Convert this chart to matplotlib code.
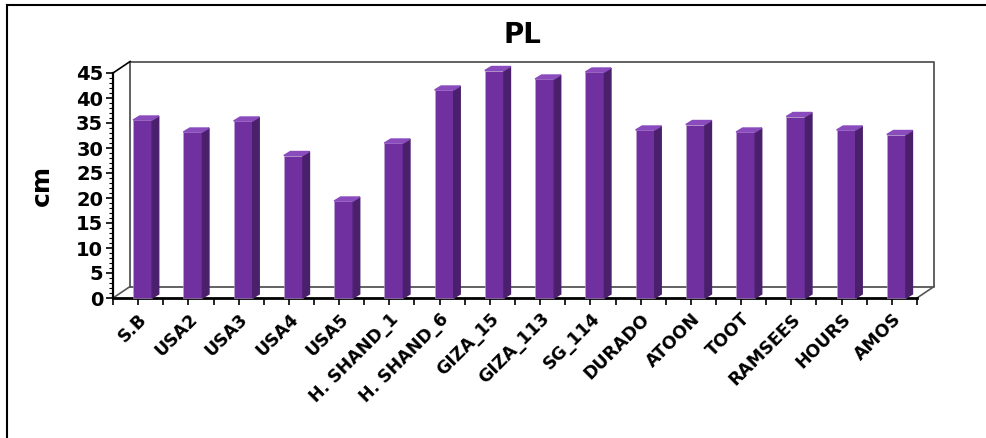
import matplotlib.pyplot as plt
from matplotlib.lines import Line2D
from matplotlib.ticker import MultipleLocator

varieties = ['S.B', 'USA2', 'USA3', 'USA4', 'USA5', 'H. SHAND_1', 'H. SHAND_6',
             'GIZA_15', 'GIZA_113', 'SG_114', 'DURADO', 'ATOON', 'TOOT',
             'RAMSEES', 'HOURS', 'AMOS']
pl_cm = [35.6, 33.2, 35.4, 28.5, 19.4, 31.0, 41.6, 45.5, 43.8, 45.2,
         33.6, 34.7, 33.2, 36.3, 33.6, 32.7]

front = '#7030A0'
side = '#4A1F6C'
top = '#8A4CBC'

fig = plt.figure(figsize=(9.87, 4.38), dpi=100)
ax = fig.add_axes([113/987, 140/438, 804/987, 225/438])
n = len(varieties)
ax.set_xlim(0, n)
ax.set_ylim(0, 45)

# depth of the 3d box (in data units) and of each bar
dx, dy = 0.34, 2.3
bdx, bdy = 0.13, 0.8
bw = 0.38

# back wall and floor
bk = dict(color='#555555', lw=1.3, clip_on=False, zorder=1)
ax.plot([dx, dx, n + dx, n + dx, dx], [dy, 45 + dy, 45 + dy, dy, dy], **bk)
ax.plot([0, dx], [45, 45 + dy], color='black', lw=1.2, clip_on=False)
ax.plot([0, dx], [0, dy], color='#555555', lw=1.2, clip_on=False)
ax.plot([n, n + dx], [0, dy], color='#555555', lw=1.2, clip_on=False)

# bars with side and top faces
for i, v in enumerate(pl_cm):
    x0 = i + 0.4
    ax.bar(x0, v, width=bw, align='edge', color=front, edgecolor='#B9A6CC',
           lw=0.4, zorder=3, clip_on=False)
    ax.fill([x0 + bw, x0 + bw + bdx, x0 + bw + bdx, x0 + bw],
            [0, bdy, v + bdy, v], color=side, zorder=3, clip_on=False)
    ax.fill([x0, x0 + bdx, x0 + bw + bdx, x0 + bw],
            [v, v + bdy, v + bdy, v], color=top, zorder=3, clip_on=False)

for s in ['top', 'right']:
    ax.spines[s].set_visible(False)
ax.spines['left'].set_linewidth(1.6)
ax.spines['bottom'].set_linewidth(2)

ax.yaxis.set_major_locator(MultipleLocator(5))
ax.yaxis.set_minor_locator(MultipleLocator(1))
ax.tick_params(axis='y', which='major', length=5, width=1.2, labelsize=14, pad=2)
ax.tick_params(axis='y', which='minor', length=3, width=0.8)
for t in ax.get_yticklabels():
    t.set_fontweight('bold')

ax.set_xticks([i + 0.5 for i in range(n)])
ax.set_xticks(range(n + 1), minor=True)
ax.tick_params(axis='x', which='both', length=5, width=1.2)
ax.set_xticklabels(varieties, rotation=45, ha='right', rotation_mode='anchor',
                   fontsize=12.5, fontweight='bold')

ax.set_ylabel('cm', fontsize=18, fontweight='bold', labelpad=16)
fig.text(522/987, 1 - 35/438, 'PL', fontsize=20, fontweight='bold',
         ha='center', va='center')

# outer chart frame (only top and left visible)
fig.add_artist(Line2D([7/987, 1], [1 - 4.5/438, 1 - 4.5/438], color='black', lw=1.5))
fig.add_artist(Line2D([7/987, 7/987], [0, 1 - 4.5/438], color='black', lw=1.5))

fig.savefig('out.png', dpi=100)
